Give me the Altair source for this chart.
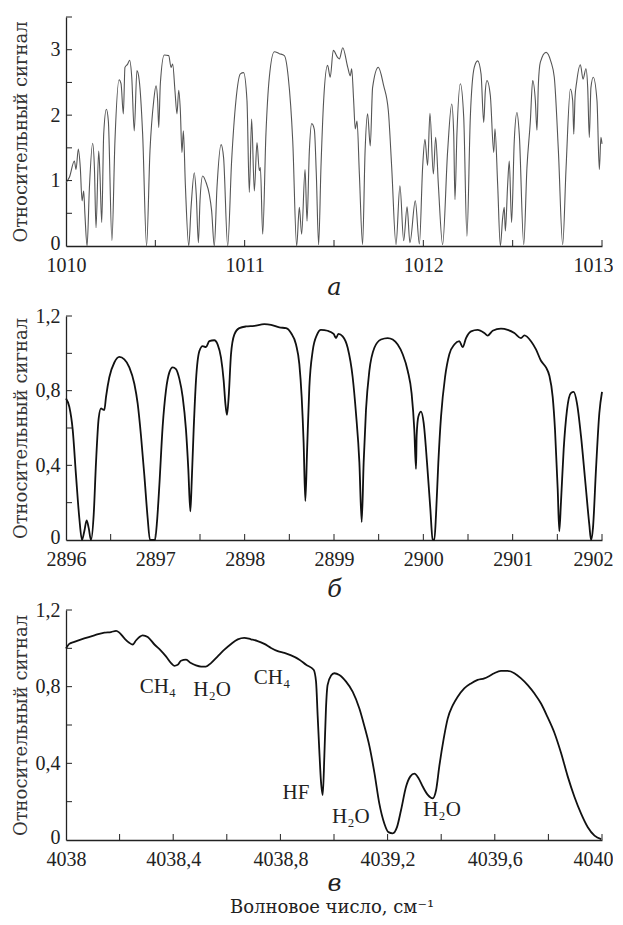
import altair as alt
import pandas as pd

FONT = "DejaVu Serif"
LATIN = "Liberation Serif"

# ---------------- panel а ----------------
a_points = [
    (1010.000, 0.97), (1010.019, 1.05), (1010.047, 1.30), (1010.056, 1.17), (1010.069, 1.48),
    (1010.080, 1.20), (1010.090, 0.69), (1010.099, 0.84), (1010.106, 0.48), (1010.118, 0.00),
    (1010.131, 0.89), (1010.149, 1.57), (1010.159, 1.20), (1010.168, 0.28), (1010.183, 1.45),
    (1010.190, 1.10), (1010.200, 0.36), (1010.211, 1.71), (1010.226, 2.09), (1010.237, 1.91),
    (1010.257, 0.08), (1010.274, 1.61), (1010.297, 2.54), (1010.308, 2.48), (1010.321, 2.02),
    (1010.330, 2.73), (1010.345, 2.78), (1010.356, 2.84), (1010.368, 2.58), (1010.382, 1.76),
    (1010.397, 2.68), (1010.410, 2.53), (1010.429, 1.71), (1010.451, 0.00), (1010.470, 1.45),
    (1010.491, 2.22), (1010.504, 2.45), (1010.513, 2.22), (1010.519, 1.81), (1010.528, 2.48),
    (1010.550, 2.92), (1010.575, 2.91), (1010.588, 2.73), (1010.597, 2.78), (1010.610, 2.37),
    (1010.621, 2.02), (1010.631, 2.38), (1010.640, 2.07), (1010.649, 1.43), (1010.657, 1.76),
    (1010.668, 0.94), (1010.687, 0.00), (1010.700, 0.59), (1010.718, 1.12), (1010.729, 0.79),
    (1010.741, 0.05), (1010.750, 0.69), (1010.765, 1.07), (1010.784, 0.97), (1010.802, 0.79),
    (1010.815, 0.54), (1010.830, 0.00), (1010.845, 0.89), (1010.868, 1.55), (1010.882, 1.35),
    (1010.905, 0.00), (1010.927, 1.30), (1010.951, 2.22), (1010.976, 2.63), (1010.994, 2.65),
    (1011.013, 2.22), (1011.026, 0.82), (1011.039, 1.94), (1011.054, 0.84), (1011.069, 1.58),
    (1011.082, 1.15), (1011.088, 1.20), (1011.101, 0.18), (1011.119, 1.71), (1011.138, 2.58),
    (1011.166, 2.97), (1011.194, 2.94), (1011.222, 2.91), (1011.244, 2.58), (1011.269, 1.61),
    (1011.291, 0.00), (1011.306, 0.59), (1011.319, 0.18), (1011.338, 1.17), (1011.349, 0.38),
    (1011.362, 1.45), (1011.375, 1.87), (1011.390, 1.78), (1011.401, 1.10), (1011.414, 0.02),
    (1011.427, 1.20), (1011.442, 2.22), (1011.464, 2.76), (1011.479, 2.58), (1011.496, 2.99),
    (1011.521, 2.88), (1011.530, 2.86), (1011.549, 3.03), (1011.577, 2.73), (1011.591, 2.60),
    (1011.599, 2.71), (1011.610, 2.22), (1011.619, 1.79), (1011.629, 1.91), (1011.642, 1.10),
    (1011.660, 0.02), (1011.674, 1.45), (1011.688, 2.02), (1011.703, 1.53), (1011.716, 2.42),
    (1011.748, 2.73), (1011.778, 2.45), (1011.804, 2.07), (1011.823, 1.20), (1011.847, 0.02),
    (1011.869, 0.92), (1011.890, 0.08), (1011.909, 0.60), (1011.925, 0.05), (1011.955, 0.69),
    (1011.978, 0.03), (1011.996, 1.20), (1012.009, 1.63), (1012.024, 1.23), (1012.037, 2.03),
    (1012.056, 1.10), (1012.069, 1.66), (1012.084, 0.94), (1012.108, 0.02), (1012.136, 1.45),
    (1012.159, 2.17), (1012.170, 1.71), (1012.177, 0.71), (1012.188, 1.71), (1012.207, 2.48),
    (1012.226, 1.97), (1012.244, 0.15), (1012.263, 1.97), (1012.285, 2.73), (1012.304, 2.83),
    (1012.323, 2.63), (1012.338, 1.89), (1012.347, 2.37), (1012.356, 2.53), (1012.375, 2.30),
    (1012.394, 1.43), (1012.401, 1.79), (1012.416, 0.94), (1012.431, 0.00), (1012.444, 0.43),
    (1012.453, 0.59), (1012.459, 0.23), (1012.472, 0.94), (1012.481, 1.30), (1012.494, 0.36),
    (1012.509, 1.61), (1012.524, 2.04), (1012.537, 1.71), (1012.562, 0.02), (1012.580, 1.20),
    (1012.599, 1.91), (1012.612, 2.53), (1012.627, 2.22), (1012.636, 1.77), (1012.644, 2.48),
    (1012.655, 2.81), (1012.687, 2.96), (1012.715, 2.81), (1012.733, 2.58), (1012.756, 1.45),
    (1012.780, 0.02), (1012.799, 1.20), (1012.823, 2.40), (1012.836, 2.22), (1012.842, 1.71),
    (1012.849, 2.27), (1012.858, 2.50), (1012.879, 2.77), (1012.894, 2.55), (1012.910, 2.71),
    (1012.920, 2.42), (1012.929, 1.66), (1012.938, 2.42), (1012.951, 2.58), (1012.972, 2.22),
    (1012.985, 1.17), (1012.994, 1.66), (1013.000, 1.56),
]
a_xdomain = [1010, 1013]
a_ydomain = [0, 3.5]
a_xlabels = [1010, 1011, 1012, 1013]
a_ylabels = [0, 1, 2, 3]
a_xticks = [1010.5, 1011, 1011.5, 1012, 1012.5, 1013]
a_yticks = [0.5, 1, 1.5, 2, 2.5, 3, 3.5]

# ---------------- panel б ----------------
b_points = [
    (2896.000, 0.758), (2896.037, 0.714), (2896.075, 0.591), (2896.112, 0.346), (2896.149, 0.118),
    (2896.179, 0.000), (2896.205, 0.047), (2896.231, 0.105), (2896.254, 0.065), (2896.280, 0.000),
    (2896.310, 0.135), (2896.336, 0.416), (2896.366, 0.653), (2896.392, 0.705), (2896.410, 0.700),
    (2896.429, 0.696), (2896.448, 0.767), (2896.485, 0.872), (2896.541, 0.951), (2896.597, 0.981),
    (2896.653, 0.968), (2896.709, 0.925), (2896.765, 0.837), (2896.802, 0.732), (2896.840, 0.556),
    (2896.877, 0.346), (2896.914, 0.118), (2896.940, 0.000), (2896.996, 0.000), (2897.019, 0.100),
    (2897.045, 0.293), (2897.082, 0.609), (2897.119, 0.802), (2897.157, 0.898), (2897.194, 0.925),
    (2897.231, 0.916), (2897.269, 0.863), (2897.306, 0.767), (2897.343, 0.591), (2897.369, 0.381),
    (2897.392, 0.153), (2897.407, 0.311), (2897.429, 0.591), (2897.455, 0.854), (2897.493, 1.012),
    (2897.530, 1.039), (2897.567, 1.033), (2897.604, 1.065), (2897.660, 1.070), (2897.698, 1.047),
    (2897.735, 0.977), (2897.765, 0.854), (2897.784, 0.732), (2897.802, 0.670), (2897.821, 0.767),
    (2897.847, 0.995), (2897.884, 1.100), (2897.940, 1.135), (2898.015, 1.144), (2898.108, 1.147),
    (2898.220, 1.156), (2898.295, 1.153), (2898.388, 1.139), (2898.463, 1.135), (2898.519, 1.109),
    (2898.575, 1.047), (2898.612, 0.942), (2898.638, 0.767), (2898.660, 0.521), (2898.679, 0.209),
    (2898.698, 0.468), (2898.724, 0.819), (2898.761, 1.012), (2898.810, 1.100), (2898.854, 1.126),
    (2898.929, 1.121), (2898.996, 1.104), (2899.022, 1.082), (2899.049, 1.104), (2899.097, 1.091),
    (2899.153, 1.030), (2899.209, 0.872), (2899.246, 0.679), (2899.284, 0.416), (2899.310, 0.096),
    (2899.332, 0.416), (2899.358, 0.696), (2899.396, 0.907), (2899.452, 1.030), (2899.526, 1.074),
    (2899.601, 1.082), (2899.657, 1.074), (2899.713, 1.047), (2899.769, 0.995), (2899.825, 0.907),
    (2899.869, 0.784), (2899.899, 0.591), (2899.918, 0.381), (2899.925, 0.556), (2899.944, 0.661),
    (2899.974, 0.688), (2900.004, 0.626), (2900.041, 0.416), (2900.078, 0.170), (2900.104, 0.004),
    (2900.123, 0.000), (2900.142, 0.135), (2900.168, 0.416), (2900.198, 0.661), (2900.243, 0.872),
    (2900.291, 0.995), (2900.347, 1.047), (2900.403, 1.065), (2900.440, 1.033), (2900.478, 1.082),
    (2900.534, 1.118), (2900.608, 1.126), (2900.683, 1.109), (2900.720, 1.095), (2900.776, 1.121),
    (2900.869, 1.132), (2900.944, 1.126), (2901.019, 1.109), (2901.093, 1.082), (2901.131, 1.096),
    (2901.205, 1.065), (2901.261, 1.021), (2901.317, 0.960), (2901.373, 0.925), (2901.410, 0.881),
    (2901.448, 0.767), (2901.474, 0.591), (2901.504, 0.275), (2901.522, 0.047), (2901.541, 0.205),
    (2901.571, 0.486), (2901.608, 0.696), (2901.653, 0.788), (2901.683, 0.793), (2901.720, 0.732),
    (2901.765, 0.556), (2901.810, 0.328), (2901.858, 0.082), (2901.877, 0.000), (2901.899, 0.065),
    (2901.933, 0.381), (2901.970, 0.679), (2902.000, 0.793),
]
b_xdomain = [2896, 2902]
b_ydomain = [0, 1.2]
b_xlabels = [2896, 2897, 2898, 2899, 2900, 2901, 2902]
b_ylabels = [0, 0.4, 0.8, 1.2]
b_xticks = [2896.5, 2897, 2897.5, 2898, 2898.5, 2899, 2899.5, 2900, 2900.5, 2901, 2901.5, 2902]
b_yticks = [0.2, 0.4, 0.6, 0.8, 1.0, 1.2]

# ---------------- panel в ----------------
c_points = [
    (4038.000, 0.999), (4038.012, 1.023), (4038.031, 1.034), (4038.068, 1.052), (4038.106, 1.068),
    (4038.143, 1.082), (4038.168, 1.085), (4038.187, 1.091), (4038.199, 1.082), (4038.218, 1.052),
    (4038.236, 1.029), (4038.249, 1.020), (4038.261, 1.041), (4038.274, 1.059), (4038.286, 1.068),
    (4038.305, 1.059), (4038.330, 1.020), (4038.354, 0.988), (4038.373, 0.958), (4038.392, 0.923),
    (4038.404, 0.909), (4038.417, 0.914), (4038.429, 0.935), (4038.448, 0.941), (4038.466, 0.923),
    (4038.485, 0.911), (4038.504, 0.905), (4038.522, 0.905), (4038.541, 0.923), (4038.566, 0.958),
    (4038.591, 0.993), (4038.616, 1.023), (4038.641, 1.047), (4038.665, 1.055), (4038.690, 1.047),
    (4038.715, 1.038), (4038.740, 1.023), (4038.765, 1.002), (4038.790, 0.985), (4038.815, 0.976),
    (4038.840, 0.963), (4038.871, 0.941), (4038.896, 0.914), (4038.924, 0.888), (4038.933, 0.826),
    (4038.939, 0.649), (4038.945, 0.473), (4038.951, 0.314), (4038.958, 0.235), (4038.964, 0.438),
    (4038.970, 0.685), (4038.976, 0.808), (4038.989, 0.858), (4039.001, 0.870), (4039.020, 0.861),
    (4039.045, 0.826), (4039.070, 0.773), (4039.095, 0.685), (4039.113, 0.596), (4039.132, 0.491),
    (4039.151, 0.349), (4039.169, 0.191), (4039.188, 0.085), (4039.203, 0.041), (4039.219, 0.035),
    (4039.235, 0.067), (4039.250, 0.155), (4039.269, 0.279), (4039.285, 0.332), (4039.300, 0.346),
    (4039.315, 0.323), (4039.331, 0.279), (4039.350, 0.235), (4039.368, 0.217), (4039.381, 0.261),
    (4039.393, 0.385), (4039.409, 0.526), (4039.424, 0.632), (4039.443, 0.702), (4039.461, 0.746),
    (4039.486, 0.791), (4039.511, 0.817), (4039.536, 0.835), (4039.561, 0.843), (4039.580, 0.856),
    (4039.598, 0.870), (4039.623, 0.882), (4039.648, 0.882), (4039.673, 0.870), (4039.698, 0.843),
    (4039.723, 0.808), (4039.748, 0.764), (4039.773, 0.711), (4039.797, 0.641), (4039.822, 0.561),
    (4039.847, 0.455), (4039.872, 0.332), (4039.897, 0.226), (4039.922, 0.138), (4039.947, 0.067),
    (4039.972, 0.023), (4039.997, 0.005),
]
c_xdomain = [4038, 4040]
c_ydomain = [0, 1.2]
c_xlabels = [4038, 4038.4, 4038.8, 4039.2, 4039.6, 4040]
c_ylabels = [0, 0.4, 0.8, 1.2]
c_xticks = [4038.2, 4038.4, 4038.6, 4038.8, 4039.0, 4039.2, 4039.4, 4039.6, 4039.8, 4040]
c_yticks = [0.2, 0.4, 0.6, 0.8, 1.0, 1.2]

c_note_text = ["CH₄", "H₂O", "CH₄", "HF", "H₂O", "H₂O"]
c_note_x = [4038.343, 4038.545, 4038.769, 4038.858, 4039.063, 4039.403]
c_note_y = [0.80, 0.785, 0.845, 0.245, 0.118, 0.155]

y_title = "Относительный сигнал"
x_caption = "Волновое число, см⁻¹"

W = 536
TICK = 6
INK = "#222222"


def panel(points, xdom, ydom, h, xlabels, ylabels, xticks, yticks, letter,
          letter_y, color, width, extra=None):
    df = pd.DataFrame(points, columns=["x", "y"])
    xs = alt.Scale(domain=xdom, nice=False, zero=False)
    ys = alt.Scale(domain=ydom, nice=False)
    last = xdom[1]
    xaxis = alt.Axis(
        values=xlabels, format="~r", labelExpr="replace(datum.label, '.', ',')",
        labelFont=LATIN, labelFontSize=20, labelColor=INK,
        title=letter, titleFont=FONT, titleFontStyle="italic", titleFontSize=24,
        titleFontWeight="normal", titleY=letter_y, titleBaseline="alphabetic", titleColor=INK,
        labelFlush=False, labelPadding=9, ticks=False, tickSize=0, grid=False,
        domainColor=INK, domainWidth=1.3,
        labelOffset={"condition": {"test": f"datum.value >= {last}", "value": -9}, "value": 0},
    )
    yaxis = alt.Axis(
        values=ylabels, format="~r", labelExpr="replace(datum.label, '.', ',')",
        labelFont=LATIN, labelFontSize=20, labelColor=INK,
        title=y_title, titleFont=FONT, titleX=-45, titleY=h / 2, titleBaseline="middle",
        titleFontSize=18, titleFontWeight="normal", titleColor="#333333",
        labelPadding=6, ticks=False, tickSize=0, grid=False,
        domainColor=INK, domainWidth=1.3,
        labelOffset={"condition": {"test": "datum.value == 0", "value": -3}, "value": 0},
    )
    line = alt.Chart(df).mark_line(color=color, strokeWidth=width, interpolate="monotone").encode(
        x=alt.X("x:Q", scale=xs, axis=xaxis),
        y=alt.Y("y:Q", scale=ys, axis=yaxis),
    )
    xt = alt.Chart(pd.DataFrame({"x": xticks})).mark_rule(color=INK, strokeWidth=1).encode(
        x=alt.X("x:Q"), y=alt.value(h), y2=alt.value(h - TICK)
    )
    yt = alt.Chart(pd.DataFrame({"y": yticks})).mark_rule(color=INK, strokeWidth=1).encode(
        y=alt.Y("y:Q"), x=alt.value(0), x2=alt.value(TICK)
    )
    layers = [line, xt, yt] + (extra or [])
    return alt.layer(*layers).properties(width=W, height=h)


H_A, H_B, H_C = 229, 224, 230

notes = alt.Chart(pd.DataFrame({"x": c_note_x, "y": c_note_y, "t": c_note_text})).mark_text(
    font=LATIN, fontSize=21, color=INK, align="center", baseline="middle"
).encode(x=alt.X("x:Q"), y=alt.Y("y:Q"), text="t:N")

caption = alt.Chart(pd.DataFrame({"t": [x_caption]})).mark_text(
    font=FONT, fontSize=18, color=INK, align="center", baseline="alphabetic"
).encode(x=alt.value(266), y=alt.value(H_C + 73), text="t:N")

pa = panel(a_points, a_xdomain, a_ydomain, H_A, a_xlabels, a_ylabels, a_xticks, a_yticks,
           "а", 48, "#555555", 1.1)
pb = panel(b_points, b_xdomain, b_ydomain, H_B, b_xlabels, b_ylabels, b_xticks, b_yticks,
           "б", 56, "#111111", 1.8)
pc = panel(c_points, c_xdomain, c_ydomain, H_C, c_xlabels, c_ylabels, c_xticks, c_yticks,
           "в", 50, "#111111", 1.8, extra=[notes, caption])

chart = alt.vconcat(pa, pb, pc, spacing=70, bounds="flush").properties(
    padding={"left": 3, "top": 8, "right": 0, "bottom": 0},
    background="white",
).configure_view(stroke=None)

chart.save("out.html", embed_options={"renderer": "svg", "actions": False})
